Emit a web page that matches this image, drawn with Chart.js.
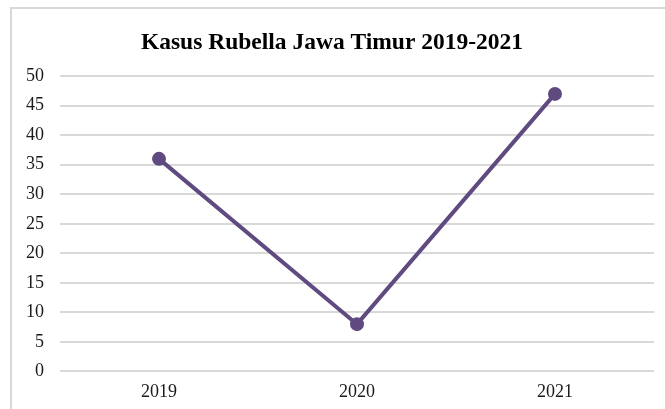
<!DOCTYPE html>
<html>
<head>
<meta charset="utf-8">
<script src="https://cdn.jsdelivr.net/npm/chart.js@4"></script>
<style>
  html, body { margin: 0; padding: 0; background: #fff; overflow: hidden; }
  #wrap { position: relative; width: 665px; height: 409px; }
  #frame { position: absolute; left: 10px; top: 7px; width: 700px; height: 500px;
           border: 2px solid #d9d9d9; box-sizing: border-box; }
  #myChart { position: absolute; left: 0; top: 0; }
</style>
</head>
<body>
<div id="wrap">
  <div id="frame"></div>
  <canvas id="myChart" width="665" height="409"></canvas>
</div>
<script>
var years = ["2019", "2020", "2021"];
var kasus = [36, 8, 47];
var yTicks = [0, 5, 10, 15, 20, 25, 30, 35, 40, 45, 50];

var serif = "'Liberation Serif', 'Times New Roman', serif";

var ctx = document.getElementById("myChart");
var myLineChart = new Chart(ctx, {
  type: "line",
  data: {
    labels: years,
    datasets: [
      {
        label: "Kasus Rubella",
        data: kasus,
        borderColor: "#5f4b80",
        backgroundColor: "#5f4b80",
        borderWidth: 4,
        pointRadius: 5,
        pointBackgroundColor: "#5f4b80",
        pointBorderColor: "#5f4b80",
        tension: 0
      }
    ]
  },
  options: {
    responsive: false,
    animation: false,
    layout: {
      padding: { left: 10, right: 11, top: 20, bottom: 0 }
    },
    plugins: {
      legend: { display: false },
      tooltip: { enabled: false },
      title: {
        display: true,
        text: "Kasus Rubella Jawa Timur 2019-2021",
        color: "#000",
        font: { family: serif, size: 23.5, weight: "bold" },
        padding: { top: 9, bottom: 19 }
      }
    },
    scales: {
      x: {
        offset: true,
        grid: { display: false, drawTicks: false },
        border: { display: false },
        afterFit: function (axis) {
          axis.height -= 4;
        },
        ticks: {
          color: "#1a1a1a",
          padding: 10,
          font: { family: serif, size: 18 }
        }
      },
      y: {
        min: 0,
        max: 50,
        afterBuildTicks: function (axis) {
          axis.ticks = yTicks.map(function (v) { return { value: v }; });
        },
        grid: { color: "#d9d9d9", lineWidth: 2, drawTicks: false },
        border: { display: false },
        ticks: {
          color: "#1a1a1a",
          padding: 16,
          font: { family: serif, size: 18 }
        }
      }
    }
  }
});
</script>
</body>
</html>
